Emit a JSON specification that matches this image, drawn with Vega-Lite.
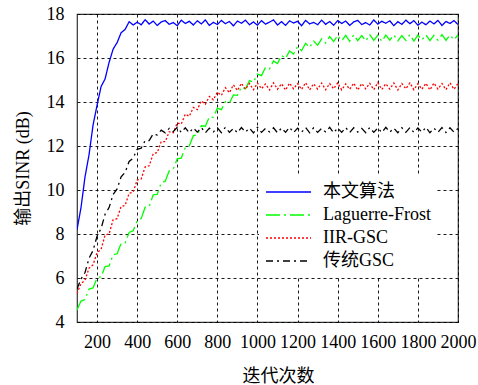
{
  "$schema": "https://vega.github.io/schema/vega-lite/v6.json",
  "width": 381,
  "height": 308,
  "autosize": {"type": "none"},
  "padding": {"left": 77, "top": 14, "right": 20, "bottom": 63},
  "config": {
    "font": "Liberation Serif, Noto Sans CJK SC, serif",
    "view": {"stroke": "#333333", "strokeWidth": 1.2},
    "axis": {
      "grid": true,
      "gridColor": "#000000",
      "gridDash": [3, 3],
      "gridWidth": 0.9,
      "gridOpacity": 1,
      "ticks": false,
      "domain": false,
      "labelFont": "Liberation Serif, serif",
      "labelFontSize": 18,
      "labelColor": "#000000",
      "labelOverlap": false,
      "labelFlush": false,
      "titleFont": "Liberation Serif, Noto Sans CJK SC, serif",
      "titleFontSize": 18,
      "titleFontWeight": "normal",
      "titleColor": "#000000"
    }
  },
  "data": {
    "values": [
      {"x":100,"本文算法":8.2,"Laguerre-Frost":4.55,"IIR-GSC":5.3,"传统GSC":5.5},
      {"x":120,"本文算法":9.2,"Laguerre-Frost":4.95,"IIR-GSC":5.75,"传统GSC":5.95},
      {"x":140,"本文算法":10.6,"Laguerre-Frost":5.02,"IIR-GSC":5.9,"传统GSC":6.25},
      {"x":160,"本文算法":11.6,"Laguerre-Frost":5.5,"IIR-GSC":6.45,"传统GSC":6.9},
      {"x":180,"本文算法":12.95,"Laguerre-Frost":5.55,"IIR-GSC":6.6,"传统GSC":7.25},
      {"x":200,"本文算法":13.85,"Laguerre-Frost":6.0,"IIR-GSC":7.15,"传统GSC":7.9},
      {"x":220,"本文算法":14.7,"Laguerre-Frost":6.05,"IIR-GSC":7.3,"传统GSC":8.25},
      {"x":240,"本文算法":15.05,"Laguerre-Frost":6.52,"IIR-GSC":7.95,"传统GSC":8.9},
      {"x":260,"本文算法":15.8,"Laguerre-Frost":6.55,"IIR-GSC":8.0,"传统GSC":9.2},
      {"x":280,"本文算法":16.4,"Laguerre-Frost":7.05,"IIR-GSC":8.65,"传统GSC":9.8},
      {"x":300,"本文算法":16.7,"Laguerre-Frost":7.1,"IIR-GSC":8.7,"传统GSC":10.05},
      {"x":320,"本文算法":17.15,"Laguerre-Frost":7.57,"IIR-GSC":9.25,"传统GSC":10.6},
      {"x":340,"本文算法":17.3,"Laguerre-Frost":7.6,"IIR-GSC":9.3,"传统GSC":10.8},
      {"x":360,"本文算法":17.65,"Laguerre-Frost":8.07,"IIR-GSC":9.85,"传统GSC":11.3},
      {"x":380,"本文算法":17.5,"Laguerre-Frost":8.15,"IIR-GSC":9.9,"传统GSC":11.45},
      {"x":400,"本文算法":17.63,"Laguerre-Frost":8.6,"IIR-GSC":10.45,"传统GSC":11.85},
      {"x":420,"本文算法":17.51,"Laguerre-Frost":8.7,"IIR-GSC":10.5,"传统GSC":11.9},
      {"x":440,"本文算法":17.74,"Laguerre-Frost":9.22,"IIR-GSC":11.05,"传统GSC":12.25},
      {"x":460,"本文算法":17.54,"Laguerre-Frost":9.25,"IIR-GSC":11.1,"传统GSC":12.25},
      {"x":480,"本文算法":17.68,"Laguerre-Frost":9.78,"IIR-GSC":11.65,"传统GSC":12.55},
      {"x":500,"本文算法":17.48,"Laguerre-Frost":9.8,"IIR-GSC":11.7,"传统GSC":12.5},
      {"x":520,"本文算法":17.64,"Laguerre-Frost":10.32,"IIR-GSC":12.2,"传统GSC":12.72},
      {"x":540,"本文算法":17.7,"Laguerre-Frost":10.4,"IIR-GSC":12.2,"传统GSC":12.6},
      {"x":560,"本文算法":17.53,"Laguerre-Frost":10.87,"IIR-GSC":12.65,"传统GSC":12.8},
      {"x":580,"本文算法":17.61,"Laguerre-Frost":10.95,"IIR-GSC":12.6,"传统GSC":12.65},
      {"x":600,"本文算法":17.47,"Laguerre-Frost":11.42,"IIR-GSC":13.05,"传统GSC":12.85},
      {"x":620,"本文算法":17.72,"Laguerre-Frost":11.45,"IIR-GSC":13.0,"传统GSC":12.62},
      {"x":640,"本文算法":17.57,"Laguerre-Frost":11.93,"IIR-GSC":13.45,"传统GSC":12.83},
      {"x":660,"本文算法":17.67,"Laguerre-Frost":12.0,"IIR-GSC":13.35,"传统GSC":12.6},
      {"x":680,"本文算法":17.5,"Laguerre-Frost":12.47,"IIR-GSC":13.75,"传统GSC":12.82},
      {"x":700,"本文算法":17.69,"Laguerre-Frost":12.5,"IIR-GSC":13.65,"传统GSC":12.63},
      {"x":720,"本文算法":17.55,"Laguerre-Frost":12.92,"IIR-GSC":14.05,"传统GSC":12.84},
      {"x":740,"本文算法":17.73,"Laguerre-Frost":12.9,"IIR-GSC":13.9,"传统GSC":12.6},
      {"x":760,"本文算法":17.48,"Laguerre-Frost":13.32,"IIR-GSC":14.25,"传统GSC":12.81},
      {"x":780,"本文算法":17.62,"Laguerre-Frost":13.3,"IIR-GSC":14.1,"传统GSC":12.64},
      {"x":800,"本文算法":17.52,"Laguerre-Frost":13.72,"IIR-GSC":14.45,"传统GSC":12.83},
      {"x":820,"本文算法":17.71,"Laguerre-Frost":13.65,"IIR-GSC":14.3,"传统GSC":12.61},
      {"x":840,"本文算法":17.56,"Laguerre-Frost":14.02,"IIR-GSC":14.65,"传统GSC":12.85},
      {"x":860,"本文算法":17.66,"Laguerre-Frost":13.95,"IIR-GSC":14.42,"传统GSC":12.62},
      {"x":880,"本文算法":17.46,"Laguerre-Frost":14.32,"IIR-GSC":14.78,"传统GSC":12.8},
      {"x":900,"本文算法":17.68,"Laguerre-Frost":14.3,"IIR-GSC":14.52,"传统GSC":12.6},
      {"x":920,"本文算法":17.58,"Laguerre-Frost":14.68,"IIR-GSC":14.85,"传统GSC":12.84},
      {"x":940,"本文算法":17.72,"Laguerre-Frost":14.6,"IIR-GSC":14.58,"传统GSC":12.63},
      {"x":960,"本文算法":17.51,"Laguerre-Frost":14.97,"IIR-GSC":14.84,"传统GSC":12.82},
      {"x":980,"本文算法":17.64,"Laguerre-Frost":14.9,"IIR-GSC":14.56,"传统GSC":12.59},
      {"x":1000,"本文算法":17.49,"Laguerre-Frost":15.27,"IIR-GSC":14.86,"传统GSC":12.85},
      {"x":1020,"本文算法":17.7,"Laguerre-Frost":15.2,"IIR-GSC":14.6,"传统GSC":12.62},
      {"x":1040,"本文算法":17.54,"Laguerre-Frost":15.57,"IIR-GSC":14.82,"传统GSC":12.8},
      {"x":1060,"本文算法":17.63,"Laguerre-Frost":15.5,"IIR-GSC":14.55,"传统GSC":12.64},
      {"x":1080,"本文算法":17.73,"Laguerre-Frost":15.87,"IIR-GSC":14.87,"传统GSC":12.83},
      {"x":1100,"本文算法":17.5,"Laguerre-Frost":15.75,"IIR-GSC":14.58,"传统GSC":12.6},
      {"x":1120,"本文算法":17.65,"Laguerre-Frost":16.12,"IIR-GSC":14.83,"传统GSC":12.82},
      {"x":1140,"本文算法":17.48,"Laguerre-Frost":15.98,"IIR-GSC":14.54,"传统GSC":12.62},
      {"x":1160,"本文算法":17.69,"Laguerre-Frost":16.32,"IIR-GSC":14.86,"传统GSC":12.85},
      {"x":1180,"本文算法":17.59,"Laguerre-Frost":16.18,"IIR-GSC":14.6,"传统GSC":12.61},
      {"x":1200,"本文算法":17.67,"Laguerre-Frost":16.52,"IIR-GSC":14.84,"传统GSC":12.81},
      {"x":1220,"本文算法":17.47,"Laguerre-Frost":16.33,"IIR-GSC":14.57,"传统GSC":12.63},
      {"x":1240,"本文算法":17.71,"Laguerre-Frost":16.67,"IIR-GSC":14.88,"传统GSC":12.84},
      {"x":1260,"本文算法":17.55,"Laguerre-Frost":16.48,"IIR-GSC":14.55,"传统GSC":12.6},
      {"x":1280,"本文算法":17.62,"Laguerre-Frost":16.77,"IIR-GSC":14.83,"传统GSC":12.83},
      {"x":1300,"本文算法":17.51,"Laguerre-Frost":16.58,"IIR-GSC":14.59,"传统GSC":12.62},
      {"x":1320,"本文算法":17.72,"Laguerre-Frost":16.87,"IIR-GSC":14.86,"传统GSC":12.8},
      {"x":1340,"本文算法":17.53,"Laguerre-Frost":16.68,"IIR-GSC":14.56,"传统GSC":12.64},
      {"x":1360,"本文算法":17.66,"Laguerre-Frost":16.97,"IIR-GSC":14.84,"传统GSC":12.85},
      {"x":1380,"本文算法":17.49,"Laguerre-Frost":16.75,"IIR-GSC":14.6,"传统GSC":12.6},
      {"x":1400,"本文算法":17.7,"Laguerre-Frost":17.02,"IIR-GSC":14.87,"传统GSC":12.82},
      {"x":1420,"本文算法":17.57,"Laguerre-Frost":16.78,"IIR-GSC":14.55,"传统GSC":12.62},
      {"x":1440,"本文算法":17.68,"Laguerre-Frost":17.03,"IIR-GSC":14.82,"传统GSC":12.84},
      {"x":1460,"本文算法":17.48,"Laguerre-Frost":16.76,"IIR-GSC":14.58,"传统GSC":12.61},
      {"x":1480,"本文算法":17.64,"Laguerre-Frost":17.05,"IIR-GSC":14.86,"传统GSC":12.83},
      {"x":1500,"本文算法":17.71,"Laguerre-Frost":16.79,"IIR-GSC":14.54,"传统GSC":12.63},
      {"x":1520,"本文算法":17.52,"Laguerre-Frost":17.02,"IIR-GSC":14.84,"传统GSC":12.8},
      {"x":1540,"本文算法":17.61,"Laguerre-Frost":16.77,"IIR-GSC":14.6,"传统GSC":12.6},
      {"x":1560,"本文算法":17.5,"Laguerre-Frost":17.06,"IIR-GSC":14.85,"传统GSC":12.84},
      {"x":1580,"本文算法":17.73,"Laguerre-Frost":16.8,"IIR-GSC":14.56,"传统GSC":12.62},
      {"x":1600,"本文算法":17.54,"Laguerre-Frost":17.03,"IIR-GSC":14.88,"传统GSC":12.82},
      {"x":1620,"本文算法":17.67,"Laguerre-Frost":16.76,"IIR-GSC":14.57,"传统GSC":12.61},
      {"x":1640,"本文算法":17.58,"Laguerre-Frost":17.04,"IIR-GSC":14.83,"传统GSC":12.85},
      {"x":1660,"本文算法":17.69,"Laguerre-Frost":16.81,"IIR-GSC":14.59,"传统GSC":12.63},
      {"x":1680,"本文算法":17.47,"Laguerre-Frost":17.05,"IIR-GSC":14.86,"传统GSC":12.81},
      {"x":1700,"本文算法":17.65,"Laguerre-Frost":16.78,"IIR-GSC":14.55,"传统GSC":12.6},
      {"x":1720,"本文算法":17.53,"Laguerre-Frost":17.02,"IIR-GSC":14.84,"传统GSC":12.83},
      {"x":1740,"本文算法":17.72,"Laguerre-Frost":16.8,"IIR-GSC":14.6,"传统GSC":12.62},
      {"x":1760,"本文算法":17.56,"Laguerre-Frost":17.06,"IIR-GSC":14.87,"传统GSC":12.84},
      {"x":1780,"本文算法":17.7,"Laguerre-Frost":16.77,"IIR-GSC":14.56,"传统GSC":12.61},
      {"x":1800,"本文算法":17.49,"Laguerre-Frost":17.04,"IIR-GSC":14.83,"传统GSC":12.82},
      {"x":1820,"本文算法":17.63,"Laguerre-Frost":16.82,"IIR-GSC":14.58,"传统GSC":12.63},
      {"x":1840,"本文算法":17.51,"Laguerre-Frost":17.05,"IIR-GSC":14.85,"传统GSC":12.85},
      {"x":1860,"本文算法":17.68,"Laguerre-Frost":16.79,"IIR-GSC":14.55,"传统GSC":12.6},
      {"x":1880,"本文算法":17.55,"Laguerre-Frost":17.03,"IIR-GSC":14.86,"传统GSC":12.81},
      {"x":1900,"本文算法":17.71,"Laguerre-Frost":16.81,"IIR-GSC":14.59,"传统GSC":12.62},
      {"x":1920,"本文算法":17.48,"Laguerre-Frost":17.06,"IIR-GSC":14.84,"传统GSC":12.84},
      {"x":1940,"本文算法":17.66,"Laguerre-Frost":16.8,"IIR-GSC":14.56,"传统GSC":12.61},
      {"x":1960,"本文算法":17.57,"Laguerre-Frost":17.04,"IIR-GSC":14.87,"传统GSC":12.83},
      {"x":1980,"本文算法":17.7,"Laguerre-Frost":16.83,"IIR-GSC":14.58,"传统GSC":12.63},
      {"x":2000,"本文算法":17.52,"Laguerre-Frost":17.05,"IIR-GSC":14.84,"传统GSC":12.8}
    ]
  },
  "transform": [
    {"fold": ["本文算法", "Laguerre-Frost", "IIR-GSC", "传统GSC"], "as": ["series", "value"]}
  ],
  "mark": {"type": "line", "strokeWidth": 1.3, "clip": true},
  "encoding": {
    "x": {
      "field": "x",
      "type": "quantitative",
      "scale": {"domain": [100, 2000], "nice": false, "zero": false},
      "axis": {"values": [200, 400, 600, 800, 1000, 1200, 1400, 1600, 1800, 2000], "format": "d", "labelPadding": 11, "title": "迭代次数", "titlePadding": 16, "titleX": 201}
    },
    "y": {
      "field": "value",
      "type": "quantitative",
      "scale": {"domain": [4, 18], "nice": false, "zero": false},
      "axis": {"values": [4, 6, 8, 10, 12, 14, 16, 18], "format": "d", "labelPadding": 13, "title": "输出SINR (dB)", "titlePadding": 14}
    },
    "color": {
      "field": "series",
      "type": "nominal",
      "sort": null,
      "scale": {"domain": ["本文算法", "Laguerre-Frost", "IIR-GSC", "传统GSC"], "range": ["#0000ff", "#00ff00", "#ff0000", "#000000"]},
      "legend": {
        "title": null,
        "orient": "none",
        "legendX": 182,
        "legendY": 162,
        "fillColor": "#ffffff",
        "padding": 6,
        "symbolType": "M-1,0H4",
        "symbolSize": 324,
        "symbolStrokeWidth": 1.3,
        "rowPadding": 4,
        "labelFont": "Liberation Serif, Noto Sans CJK SC, serif",
        "labelFontSize": 18,
        "labelColor": "#000000",
        "labelOffset": 38
      }
    },
    "strokeDash": {
      "field": "series",
      "type": "nominal",
      "sort": null,
      "scale": {"domain": ["本文算法", "Laguerre-Frost", "IIR-GSC", "传统GSC"], "range": [[1, 0], [14, 4, 2, 4], [2, 2], [7, 4, 2, 4]]},
      "legend": null
    }
  }
}
